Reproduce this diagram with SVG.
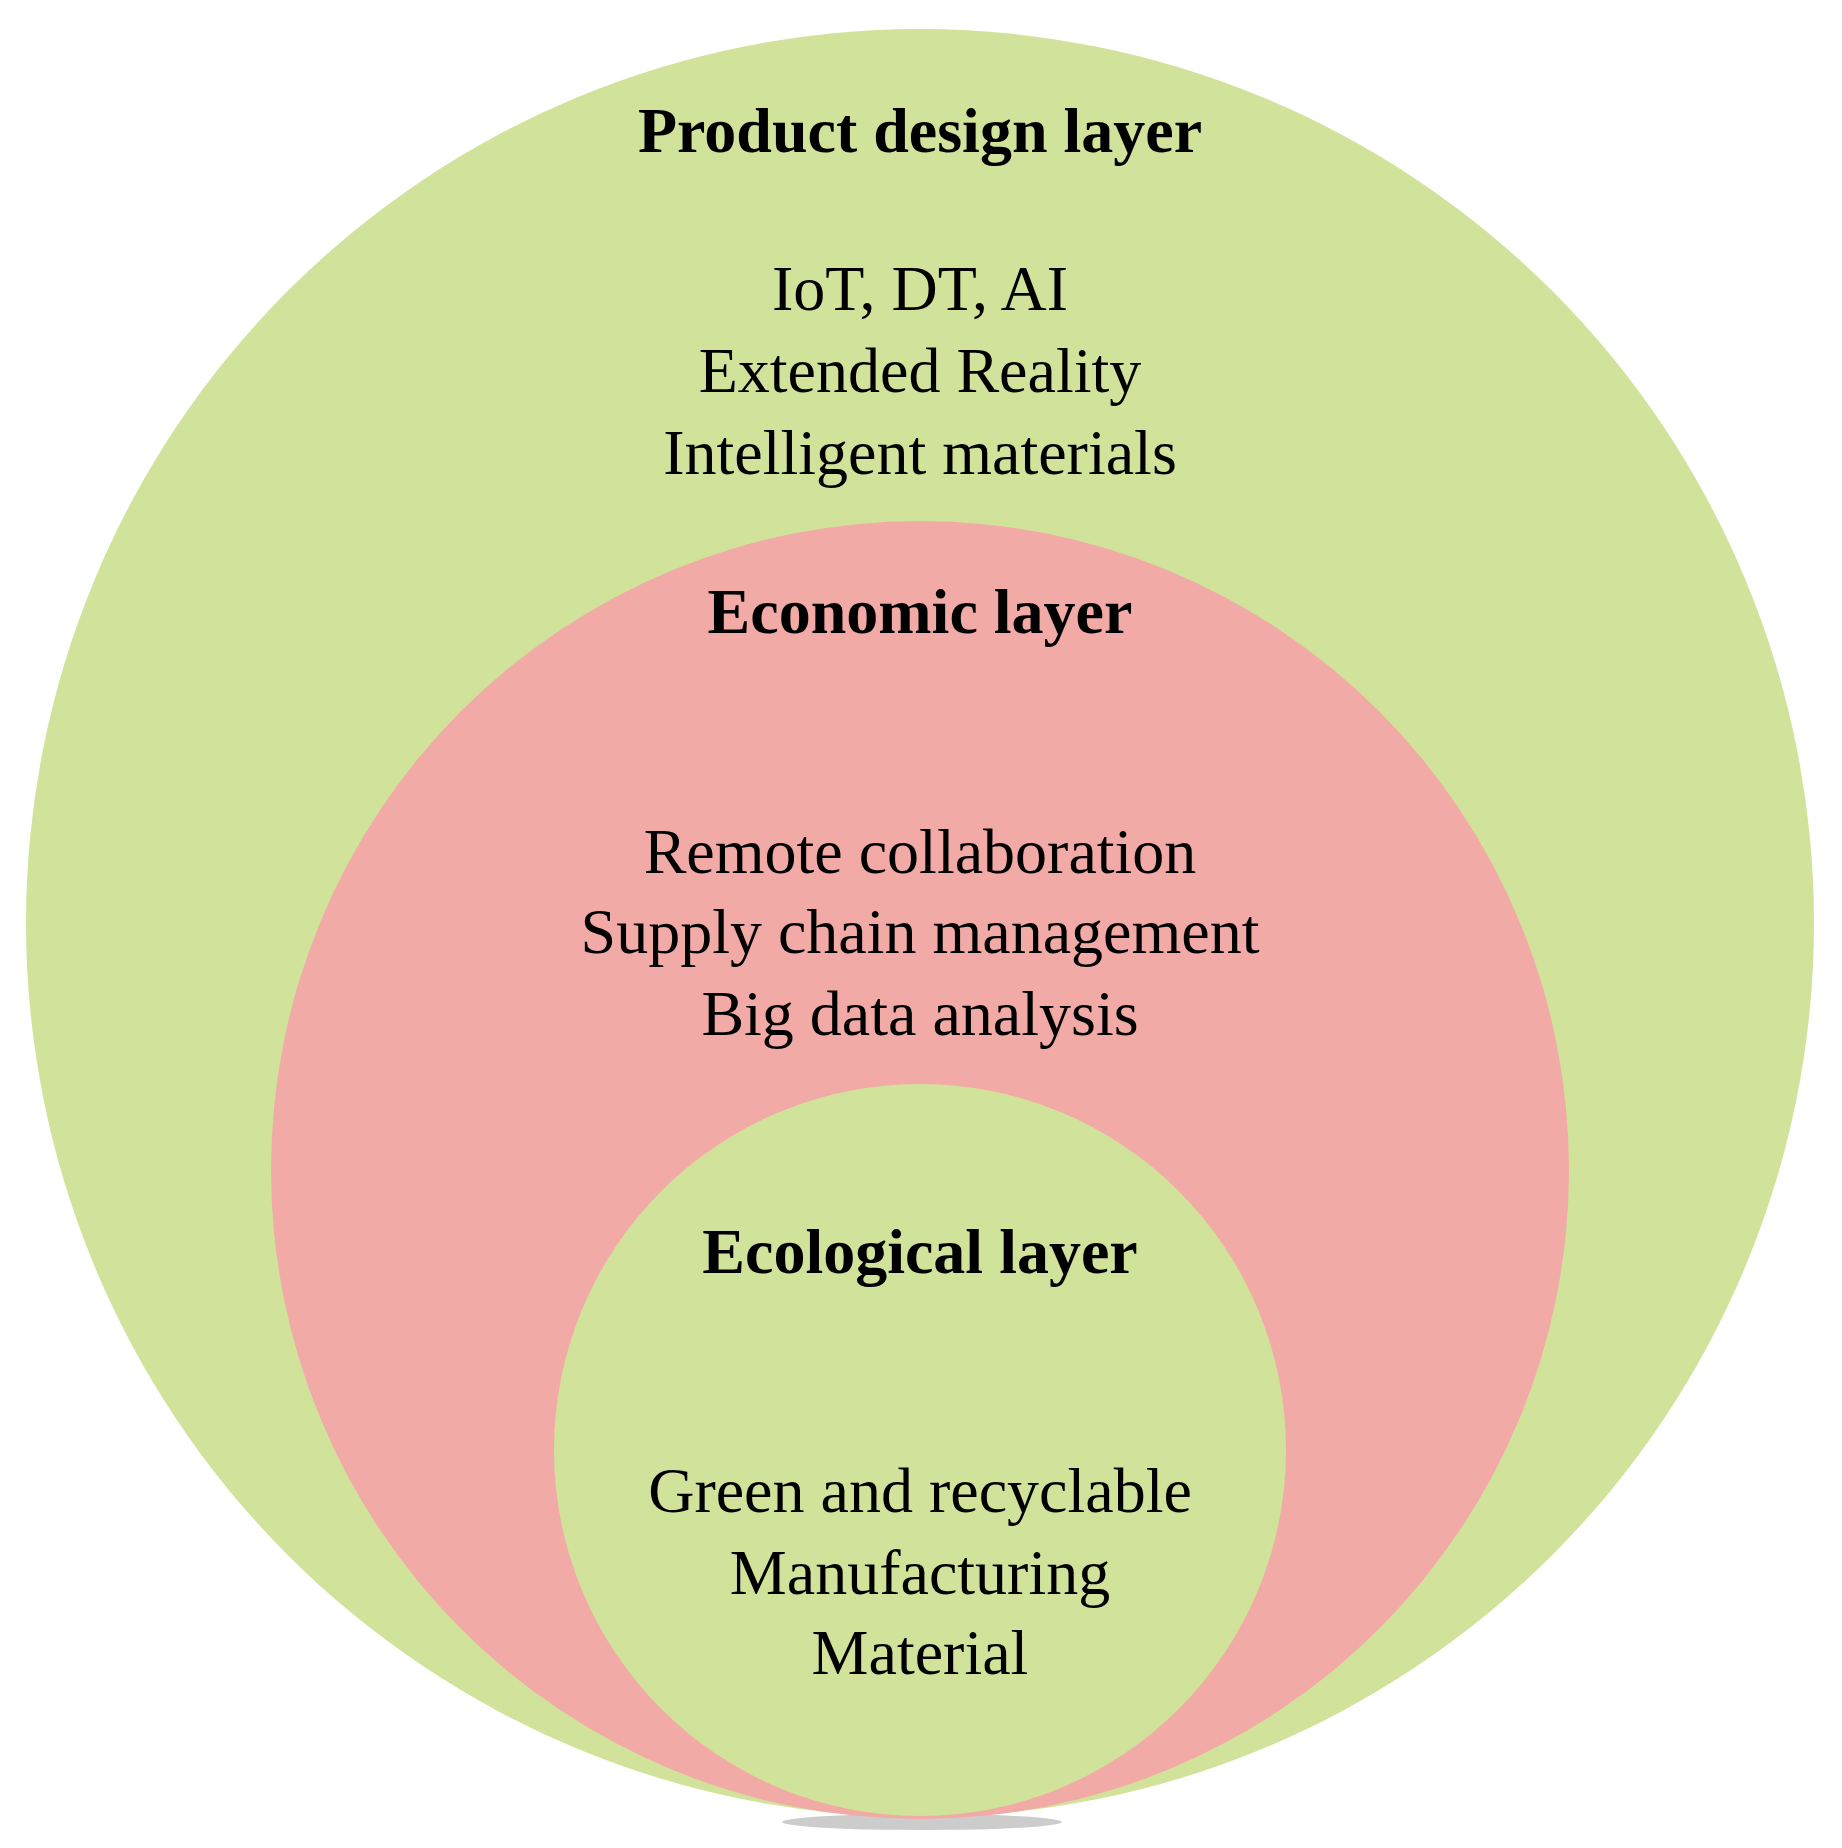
<svg xmlns="http://www.w3.org/2000/svg" width="1842" height="1848" viewBox="0 0 1842 1848">
<style>
.t{font-family:"Liberation Serif",serif;font-size:64px;fill:#000;text-anchor:middle}
.b{font-weight:bold}
.g{fill:#D1E39B}
.p{fill:#F2AAA6}
</style>
<rect width="1842" height="1848" fill="#fff"/>
<ellipse cx="922" cy="1822" rx="140" ry="8" fill="#ccc"/>
<g id="product"><circle class="g" cx="920" cy="923" r="894"/>
<text class="t b" x="920" y="152">Product design layer</text>
<text class="t" x="920" y="310">IoT, DT, AI</text>
<text class="t" x="920" y="392">Extended Reality</text>
<text class="t" x="920" y="474">Intelligent materials</text></g>
<g id="economic"><circle class="p" cx="920" cy="1170" r="649"/>
<text class="t b" x="920" y="633">Economic layer</text>
<text class="t" x="920" y="873">Remote collaboration</text>
<text class="t" x="920" y="953">Supply chain management</text>
<text class="t" x="920" y="1035">Big data analysis</text></g>
<g id="ecological"><circle class="g" cx="920" cy="1450" r="366"/>
<text class="t b" x="920" y="1273">Ecological layer</text>
<text class="t" x="920" y="1512">Green and recyclable</text>
<text class="t" x="920" y="1594">Manufacturing</text>
<text class="t" x="920" y="1674">Material</text></g>
<g id="connectors"/>
</svg>
